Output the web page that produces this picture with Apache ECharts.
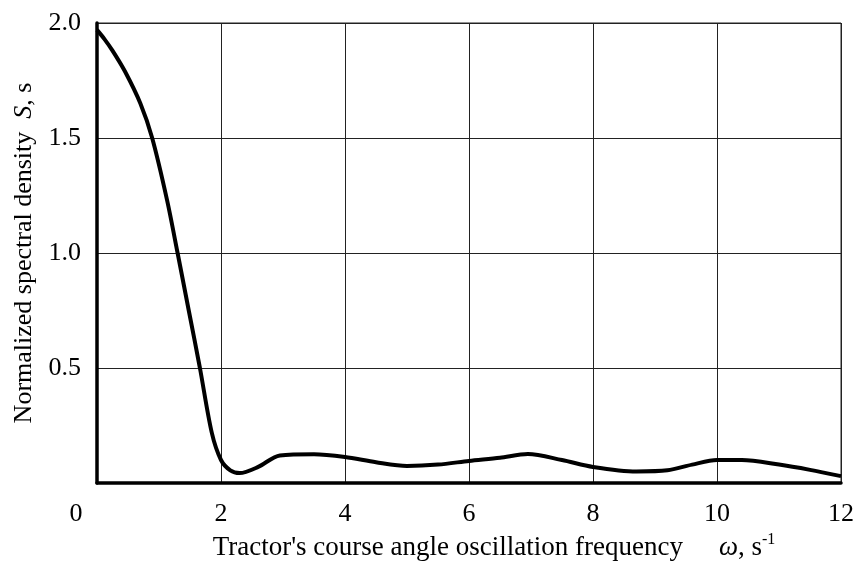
<!DOCTYPE html>
<html>
<head>
<meta charset="utf-8">
<script src="https://cdn.jsdelivr.net/npm/echarts@6/dist/echarts.min.js"></script>
<style>
  html, body { margin: 0; padding: 0; background: #fff; }
  #chart { width: 857px; height: 572px; }
</style>
</head>
<body>
<div id="chart"></div>
<script>
// frequency ω (s^-1) and normalized spectral density S (s)
const omega = [0, 0.12, 0.25, 0.45, 0.7, 0.89, 1.13, 1.3, 1.48, 1.66, 1.85, 2.0, 2.15, 2.3, 2.6, 2.95,
  3.5, 4.0, 4.5, 5.0, 5.5, 6.0, 6.5, 6.95, 7.5, 8.0, 8.7, 9.2, 9.6, 10.0, 10.4, 11.0, 11.5, 12.0];
const density = [1.97, 1.93, 1.88, 1.79, 1.65, 1.5, 1.23, 1.0, 0.75, 0.5, 0.22, 0.1, 0.055, 0.043, 0.07, 0.12,
  0.125, 0.113, 0.09, 0.074, 0.08, 0.096, 0.11, 0.126, 0.1, 0.07, 0.05, 0.055, 0.08, 0.1, 0.1, 0.08, 0.057, 0.03];

const xTicks = { min: 0, max: 12, step: 2 };
const yTicks = { min: 0, max: 2, step: 0.5 };

const font = '"Liberation Serif", "Times New Roman", serif';

const chart = echarts.init(document.getElementById('chart'));

chart.setOption({
  animation: false,
  backgroundColor: '#fff',
  textStyle: { fontFamily: font, color: '#000' },
  grid: { left: 97, right: 14, top: 23, bottom: 89, show: true, borderColor: '#222', borderWidth: 1 },
  xAxis: {
    type: 'value',
    min: xTicks.min, max: xTicks.max, interval: xTicks.step,
    name: "{lead|}Tractor's course angle oscillation frequency{gap|}{i|ω}, s{sup|-1}",
    nameLocation: 'middle',
    nameGap: 48,
    nameTextStyle: {
      fontFamily: font, fontSize: 27, color: '#000',
      rich: {
        lead: { width: 50 },
        gap: { width: 36 },
        i: { fontFamily: font, fontStyle: 'italic', fontSize: 27, color: '#000' },
        sup: { fontFamily: font, fontSize: 16, color: '#000', verticalAlign: 'bottom', padding: [0, 0, 16, 0] }
      }
    },
    axisLine: { show: true, onZero: false, lineStyle: { color: '#000', width: 3.5 } },
    axisTick: { show: false },
    splitLine: { show: true, lineStyle: { color: '#222', width: 1 } },
    axisLabel: {
      fontFamily: font, fontSize: 26, color: '#000', margin: 18,
      formatter: v => v === 0 ? '{z|0}' : String(v),
      rich: { z: { fontFamily: font, fontSize: 26, color: '#000', padding: [0, 42, 0, 0] } }
    }
  },
  yAxis: {
    type: 'value',
    min: yTicks.min, max: yTicks.max, interval: yTicks.step,
    name: 'Normalized spectral density  {i|S}, s',
    nameLocation: 'middle',
    nameRotate: 90,
    nameGap: 60,
    nameTextStyle: {
      fontFamily: font, fontSize: 26, color: '#000',
      rich: { i: { fontFamily: font, fontStyle: 'italic', fontSize: 26, color: '#000' } }
    },
    axisLine: { show: true, lineStyle: { color: '#000', width: 3.5 } },
    axisTick: { show: false },
    splitLine: { show: true, lineStyle: { color: '#222', width: 1 } },
    axisLabel: {
      fontFamily: font, fontSize: 26, color: '#000', margin: 16,
      formatter: v => v === 0 ? '' : v.toFixed(1)
    }
  },
  series: [{
    type: 'line',
    data: omega.map((w, i) => [w, density[i]]),
    smooth: 0.3,
    showSymbol: false,
    lineStyle: { color: '#000', width: 4 }
  }]
});
</script>
</body>
</html>
